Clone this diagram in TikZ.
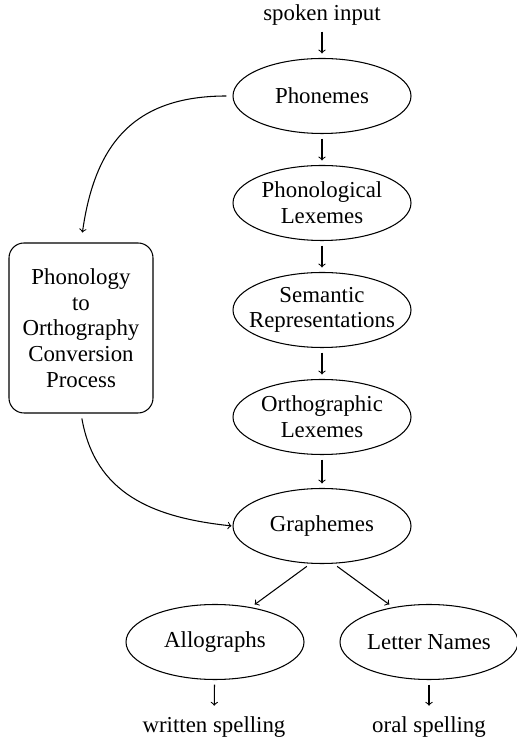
\documentclass[tikz,border=0pt]{standalone}
\usepackage{fontspec}
\setmainfont{Liberation Serif}
\usetikzlibrary{shapes.geometric}

\begin{document}
\begin{tikzpicture}[
    font=\fontsize{13}{14.6}\selectfont,
    line width=0.6pt,
    stage/.style={ellipse, draw, align=center, inner sep=0pt,
        minimum width=3.56cm, minimum height=1.5cm},
    flow/.style={->, shorten >=0.09cm, shorten <=0.09cm}
]
    \useasboundingbox (0,0) rectangle (10.34,14.84);

    \node (input) at (6.44,14.54) {spoken input};
    \node[stage] (phon) at (6.44,12.92) {Phonemes};
    \node[stage] (phonlex) at (6.44,10.78) {Phonological\\Lexemes};
    \node[stage] (sem) at (6.44,8.64) {Semantic\\\makebox[0pt]{Representations}};
    \node[stage] (orthlex) at (6.44,6.50) {Orthographic\\Lexemes};
    \node[stage] (graph) at (6.44,4.32) {Graphemes};
    \node[stage] (allo) at (4.30,2.00) {Allographs};
    \node[stage] (names) at (8.58,2.00) {Letter Names};
    \node (written) at (4.28,0.30) {written spelling};
    \node (oral) at (8.58,0.30) {oral spelling};

    \node[draw, rounded corners=0.3cm, align=center,
        minimum width=2.88cm, minimum height=3.40cm] (conv) at (1.62,8.28)
        {Phonology\\to\\Orthography\\Conversion\\Process};

    \draw[flow, shorten <=0pt] (input) to (phon);
    \draw[flow] (phon) to (phonlex);
    \draw[flow] (phonlex) to (sem);
    \draw[flow] (sem) to (orthlex);
    \draw[flow] (orthlex) to (graph);
    \draw[flow] (graph.253) to (allo.44);
    \draw[flow] (graph.287) to (names.136);
    \draw[flow] (allo) to (written);
    \draw[flow] (names) to (oral);

    % route through the conversion process
    \draw[->, shorten <=0.12cm, shorten >=0.2cm] (phon.west)
        to[out=180, in=82, looseness=1.2] (conv.north);
    \draw[->, shorten <=0.1cm, shorten >=0.02cm] (conv.south)
        to[out=-80, in=174, looseness=1.1] (graph.west);
\end{tikzpicture}
\end{document}
